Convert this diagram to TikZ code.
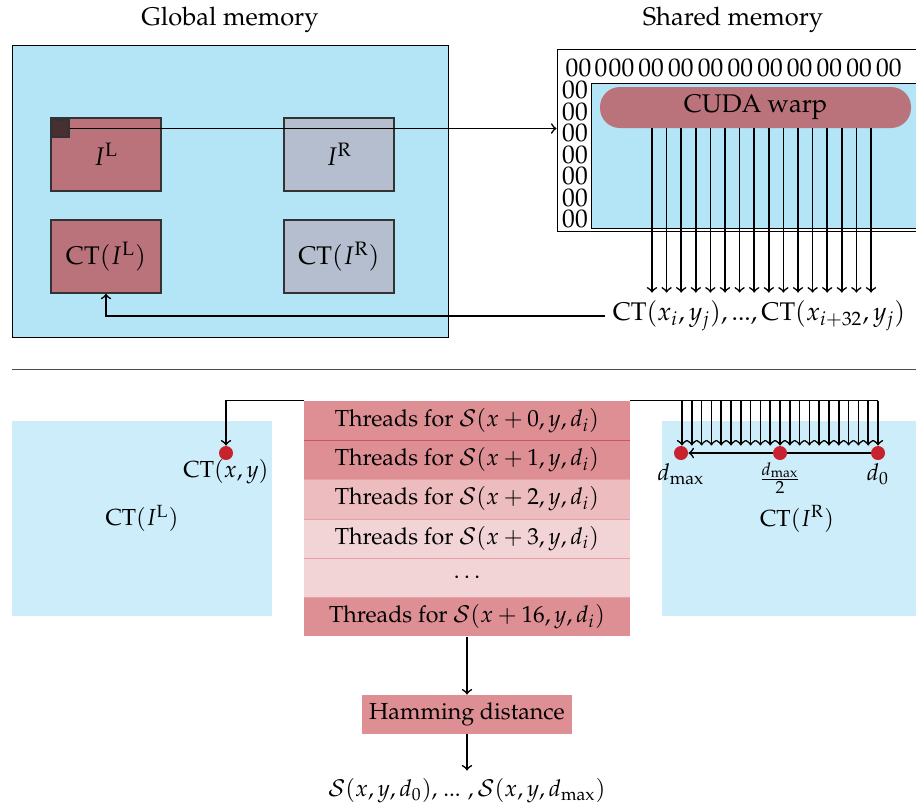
\documentclass[tikz,border=0pt]{standalone}
\usepackage[T1]{fontenc}
\usepackage{mathpazo}
\usetikzlibrary{positioning}

\definecolor{gmblue}{RGB}{179,229,247}
\definecolor{ltblue}{RGB}{204,237,249}
\definecolor{rose}{RGB}{186,115,123}
\definecolor{slate}{RGB}{180,190,206}
\definecolor{darksq}{RGB}{72,48,50}
\definecolor{pinkA}{RGB}{222,143,148}
\definecolor{pinkB}{RGB}{237,188,190}
\definecolor{pinkC}{RGB}{242,211,214}
\definecolor{seplineA}{RGB}{212,82,92}
\definecolor{seplineB}{RGB}{232,160,165}
\definecolor{dotred}{RGB}{200,34,47}

\tikzset{
	membox/.style 2 args={minimum width=#1*0.431pt, minimum height=#2*0.431pt, inner sep=0pt},
	gmtext/.style={font=\fontsize{11}{13}\selectfont},
	zeros/.style={inner sep=0pt, font=\fontsize{11}{12}\selectfont},
	imgbox/.style={draw=black!80, semithick, gmtext},
	row/.style={membox={326}{39.2}},
	dot/.style={circle, fill=dotred, minimum size=14*0.431pt, inner sep=0pt},
	conn/.style={->, line width=0.7pt}
}

\begin{document}
\begin{tikzpicture}[x=0.431pt, y=-0.431pt, >=to]
	\useasboundingbox (0,0) rectangle (916,807);

	% global memory
	\node [gmtext] (gtitle) at (230,20) {Global memory};
	\node [membox={436}{292}, draw, fill=gmblue] (global) at (230,191) {};
	\node [membox={110}{73}, imgbox, fill=rose] (IL) at (106,154.5) {$I^{\mathrm{L}}$};
	\node [membox={110}{73}, imgbox, fill=slate] (IR) at (339,154.5) {$I^{\mathrm{R}}$};
	\node [membox={110}{73}, imgbox, fill=rose] (CTIL) at (106,256.5) {$\mathrm{CT}(I^{\mathrm{L}})$};
	\node [membox={110}{73}, imgbox, fill=slate] (CTIR) at (339,256.5) {$\mathrm{CT}(I^{\mathrm{R}})$};
	\node [membox={17}{17}, imgbox, fill=darksq] (px) at (60.5,128.5) {};

	% shared memory
	\node [gmtext] (stitle) at (733,20) {Shared memory};
	\node [membox={373}{182}, draw, fill=white] (shared) at (743.5,140) {};
	\node [membox={339}{145}, draw, fill=gmblue] (tile) at (760.5,155.5) {};
	\node [zeros] (zA) at (578.5,68) {00};
	\node [zeros] (zB) at (601,68) {0};
	\foreach \k in {0,...,9}
		\node [zeros] (zrow\k) at (621.5+\k*29.7, 68) {00};
	\foreach \r in {0,...,6}
		\node [zeros] (zcol\r) at (575, 90+\r*21.5) {00};
	\node [membox={311}{41}, fill=rose, rounded corners=8.6pt, gmtext]
		(warp) at (755.5,107.5) {CUDA warp};

	\node [gmtext] (ctrow) at (759,316) {$\mathrm{CT}(x_i,y_j),...,\mathrm{CT}(x_{i+32},y_j)$};

	\foreach \i in {0,...,15} {
		\coordinate (w\i) at (652+\i*14.6, 0);
		\draw [conn] (warp.south -| w\i) -- (ctrow.north -| w\i);
	}

	\draw [conn] (px.east) -- (px.east -| shared.west);
	\draw [conn] (ctrow.west) -| (CTIL.south);

	\draw [black!70] (12,369) -- (930,369);

	% left census image
	\node [membox={260}{195}, fill=ltblue] (CTL) at (142,518.5) {$\mathrm{CT}(I^{\mathrm{L}})$};
	\node [dot] (cxy) at (226,453) {};
	\node (cxylab) at (226,472) {$\mathrm{CT}(x,y)$};

	% threads
	\foreach \i/\c/\t in {0/pinkA/0, 1/pinkA/1, 2/pinkB/2, 3/pinkC/3, 5/pinkA/16}
		\node [row, fill=\c] (thr\i) at (467, 420.6+\i*39.2)
			{Threads for $\mathcal{S}(x+\t,y,d_i)$};
	\node [row, fill=pinkC] (thr4) at (467, 420.6+4*39.2) {$\ldots$};
	\draw [seplineA] (thr0.south west) -- (thr0.south east);
	\foreach \i in {1,...,4}
		\draw [seplineB] (thr\i.south west) -- (thr\i.south east);

	% right census image
	\node [membox={254}{195}, fill=ltblue] (CTR) at (789,518.5) {};
	\node (CTRlab) at (797,519) {$\mathrm{CT}(I^{\mathrm{R}})$};
	\node [dot] (dmax) at (681,453) {};
	\node [dot] (d0) at (878,453) {};
	\draw [conn] (d0) -- (dmax);
	\node [dot] (dhalf) at (780,453) {};
	\node (dmaxlab) at (681,474) {$d_{\max}$};
	\node (dhalflab) at (780,478) {$\frac{d_{\max}}{2}$};
	\node (d0lab) at (878,474) {$d_0$};

	\draw [conn] (thr0.north west) -| (cxy.north);
	\draw [line width=0.7pt] (thr0.north east) -- (thr0.north -| d0);
	\foreach \i in {0,...,20} {
		\coordinate (s\i) at (682+\i*9.8, 0);
		\draw [conn] (thr0.north -| s\i) -- (dmax.north -| s\i);
	}

	% hamming
	\node [membox={210}{39}, fill=pinkA] (ham) at (467,714.5) {Hamming distance};
	\node (res) at (467,791) {$\mathcal{S}(x,y,d_0),$ ... $,\mathcal{S}(x,y,d_{\max})$};
	\draw [conn] (thr5.south) -- (ham.north);
	\draw [conn] (ham.south) -- (res.north);
\end{tikzpicture}
\end{document}
